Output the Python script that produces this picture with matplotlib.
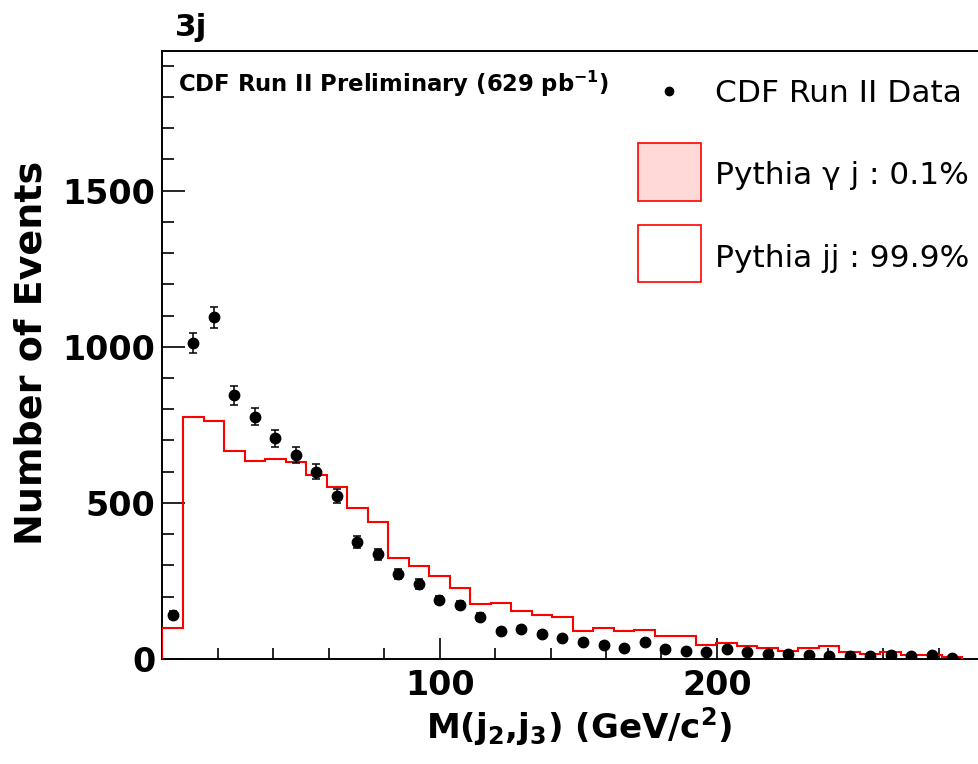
import numpy as np
import matplotlib
matplotlib.use("Agg")
import matplotlib.pyplot as plt
from matplotlib.patches import Rectangle
from matplotlib.lines import Line2D
from matplotlib.ticker import MultipleLocator

plt.rcParams['font.family'] = ['DejaVu Sans']
plt.rcParams['mathtext.fontset'] = 'dejavusans'

# ---------------- data ----------------
bin_width = 7.4   # GeV/c^2
data_counts = [141, 1013, 1094, 844, 776, 707, 653, 599, 522, 376,
               335, 272, 240, 189, 173, 135, 90, 95, 81, 66,
               53, 46, 35, 54, 31, 26, 22, 31, 22, 17,
               16, 13, 9, 10, 9, 14, 9, 14, 4]
data_errors = [12, 32, 33, 29, 28, 27, 26, 24, 23, 19,
               18, 16, 15, 14, 13, 12, 9, 10, 9, 8,
               7, 7, 6, 7, 6, 5, 5, 6, 5, 4,
               4, 4, 3, 3, 3, 4, 3, 4, 2]
pythia_jj = [98, 776, 763, 667, 635, 639, 632, 590, 550, 485,
             440, 322, 299, 267, 226, 176, 180, 154, 140, 136,
             90, 99, 90, 94, 73, 73, 46, 50, 42, 36,
             25, 36, 42, 23, 17, 22, 13, 14, 5]
x_major_ticks = [100, 200]
y_major_ticks = [0, 500, 1000, 1500]
legend_labels = ["CDF Run II Data", "Pythia \u03b3 j : 0.1%", "Pythia jj : 99.9%"]

edges = np.arange(len(pythia_jj) + 1) * bin_width
centers = edges[:-1] + bin_width / 2

W, H = 979, 764
def fx(x):
    return x / W
def fy(y):
    return 1 - y / H

fig = plt.figure(figsize=(W / 100, H / 100), dpi=100)

x0_px, scale = 162.5, 2.772
xmax = 296
left = fx(x0_px)
right_px = x0_px + xmax * scale
ax = fig.add_axes([left, fy(659), (right_px - x0_px) / W, (659 - 50.7) / H])
ax.set_xlim(0, xmax)
ax.set_ylim(0, 1948)

ax.stairs(pythia_jj, edges, color='red', lw=1.5, zorder=3)
ax.errorbar(centers, data_counts, yerr=data_errors, fmt='none', ecolor='black',
            elinewidth=1.1, capsize=3, capthick=1.1, zorder=4)
ax.plot(centers, data_counts, 'o', color='black', ms=7.5, zorder=5)

for s in ax.spines.values():
    s.set_linewidth(1.4)

ax.set_xticks(x_major_ticks)
ax.set_yticks(y_major_ticks)
ax.xaxis.set_minor_locator(MultipleLocator(20))
ax.yaxis.set_minor_locator(MultipleLocator(100))
ax.tick_params(axis='x', which='major', direction='in', length=15, width=1.2, pad=7.5,
               labelsize=24)
ax.tick_params(axis='x', which='minor', direction='in', length=8, width=1.2)
ax.tick_params(axis='y', which='major', direction='in', length=16.5, width=1.2, pad=5,
               labelsize=24)
ax.tick_params(axis='y', which='minor', direction='in', length=8.6, width=1.2)
for lab in ax.get_xticklabels() + ax.get_yticklabels():
    lab.set_fontweight('bold')

# axis titles
fig.text(fx(579), fy(738), r"M(j$_\mathbf{2}$,j$_\mathbf{3}$) (GeV/c$^\mathbf{2}$)",
         ha='center', va='baseline', fontsize=24.5, fontweight='bold')
fig.text(fx(32), fy(353), "Number of Events", rotation=90, ha='center', va='center',
         fontsize=27.4, fontweight='bold')

# top labels
fig.text(fx(175), fy(36), "3j", ha='left', va='baseline', fontsize=22.4, fontweight='bold')
fig.text(fx(178), fy(92.3), r"CDF Run II Preliminary (629 pb$^\mathbf{-1}$)",
         ha='left', va='baseline', fontsize=16.4, fontweight='bold')

# legend (drawn manually)
fig.add_artist(Line2D([fx(669)], [fy(91)], marker='o', color='black', ms=6,
                      linestyle='none', transform=fig.transFigure))
fig.add_artist(Rectangle((fx(638.3), fy(201)), 62.4 / W, 58.3 / H, transform=fig.transFigure,
                         facecolor='#ffd8d8', edgecolor='red', lw=1.2))
fig.add_artist(Rectangle((fx(638.3), fy(281.7)), 62.4 / W, 56.7 / H, transform=fig.transFigure,
                         facecolor='white', edgecolor='red', lw=1.2))
legend_baselines = [101.7, 184.3, 266.7]
for lab, yb in zip(legend_labels, legend_baselines):
    fig.text(fx(715), fy(yb), lab, ha='left', va='baseline', fontsize=22.5)

fig.savefig("out.png", dpi=100)
